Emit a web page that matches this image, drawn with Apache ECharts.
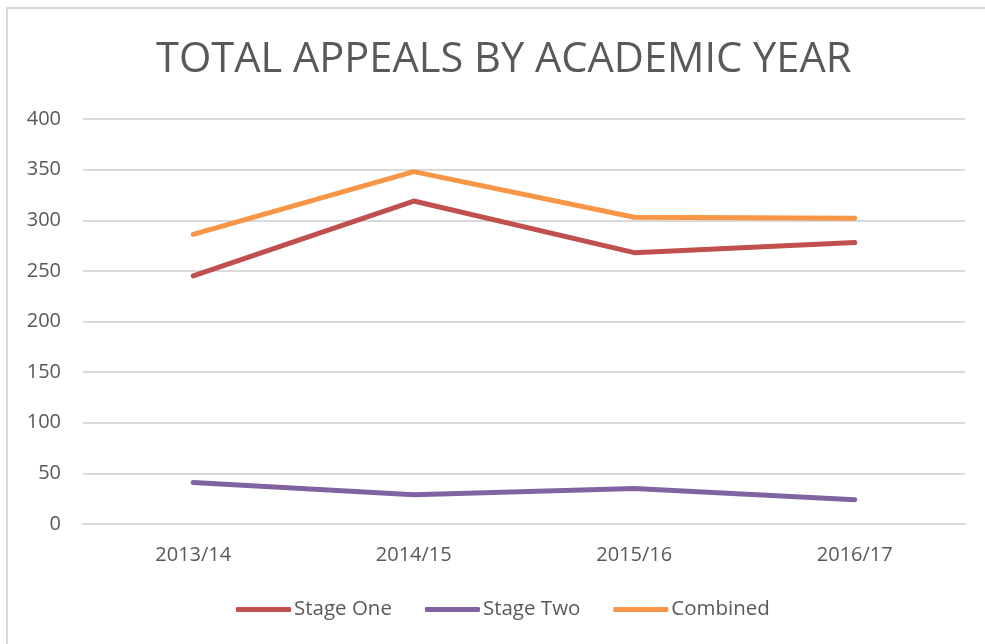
<!DOCTYPE html>
<html lang="en">
<head>
    <meta charset="UTF-8">
    <title>Total appeals by academic year</title>
    <script src="https://cdn.jsdelivr.net/npm/echarts@6/dist/echarts.min.js"></script>
    <style>
        html, body { margin: 0; padding: 0; background: #fff; }
        #frame {
            position: absolute;
            left: 6px;
            top: 7px;
            width: 978px;
            height: 640px;
            border-left: 2px solid #d9d9d9;
            border-top: 2px solid #d9d9d9;
        }
        #main { position: absolute; left: 0; top: 0; width: 985px; height: 644px; }
    </style>
</head>
<body>
    <div id="frame"></div>
    <div id="main"></div>
<script>
  // data
  var years = ['2013/14', '2014/15', '2015/16', '2016/17'];
  var stageOne = [245, 319, 268, 278];
  var stageTwo = [41, 29, 35, 24];
  var combined = [286, 348, 303, 302];

  var textColor = '#595959';
  var fontName = 'Open Sans';

  function lineSeries(name, values, colour) {
      return {
          name: name,
          type: 'line',
          data: values,
          symbol: 'none',
          lineStyle: { width: 5, color: colour, cap: 'round', join: 'round' },
          itemStyle: { color: colour }
      };
  }

  var myChart = echarts.init(document.getElementById('main'));
  myChart.setOption({
      animation: false,
      title: {
          text: 'TOTAL APPEALS BY ACADEMIC YEAR',
          left: 151,
          top: 34,
          textStyle: {
              color: textColor,
              fontFamily: fontName,
              fontWeight: 'normal',
              fontSize: 41.6
          }
      },
      legend: {
          top: 594,
          left: 231,
          itemWidth: 55,
          itemHeight: 5,
          itemGap: 33,
          icon: 'roundRect',
          textStyle: { color: textColor, fontFamily: fontName, fontSize: 20.5, padding: [0, 0, 0, -2] },
          data: ['Stage One', 'Stage Two', 'Combined']
      },
      grid: { left: 83, right: 20, top: 119, bottom: 120 },
      xAxis: {
          type: 'category',
          data: years,
          boundaryGap: true,
          axisLine: { lineStyle: { color: '#d9d9d9', width: 2 } },
          axisTick: { show: false },
          axisLabel: { color: textColor, fontFamily: fontName, fontSize: 20, margin: 21 }
      },
      yAxis: {
          type: 'value',
          min: 0,
          max: 400,
          interval: 50,
          axisLine: { show: false },
          axisTick: { show: false },
          splitLine: { lineStyle: { color: '#d9d9d9', width: 2 } },
          axisLabel: { color: textColor, fontFamily: fontName, fontSize: 20, margin: 22 }
      },
      series: [
          lineSeries('Stage One', stageOne, '#C0504D'),
          lineSeries('Stage Two', stageTwo, '#8064A2'),
          lineSeries('Combined', combined, '#F79646')
      ]
  });
</script>
</body>
</html>
